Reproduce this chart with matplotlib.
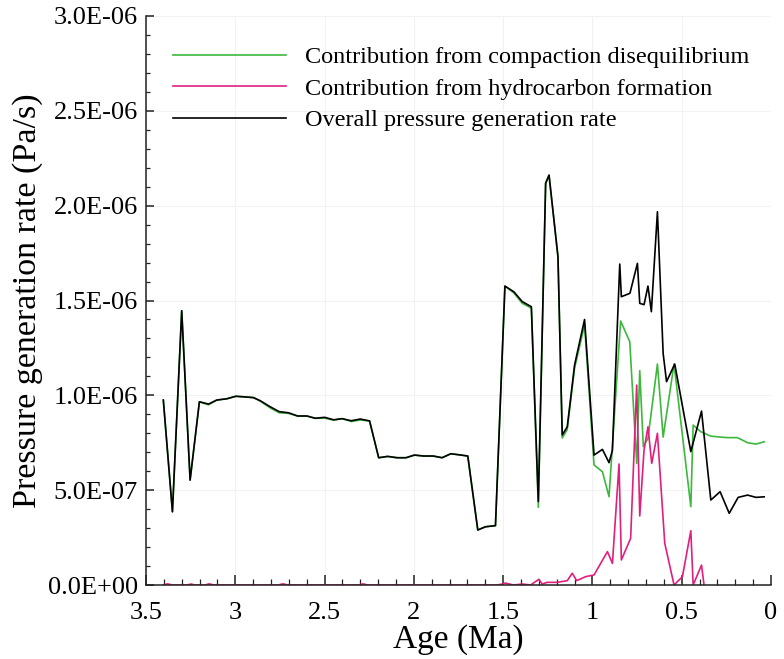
import matplotlib
matplotlib.use("Agg")
import matplotlib.pyplot as plt
from matplotlib.ticker import MultipleLocator, FuncFormatter

plt.rcParams['font.family'] = ['Liberation Serif', 'DejaVu Serif']

# overall pressure generation rate (age in Ma, rate in 1e-6 Pa/s)
age_total = [3.403, 3.352, 3.300, 3.253, 3.201, 3.150, 3.104, 3.047, 2.997, 2.950,
             2.898, 2.861, 2.805, 2.754, 2.702, 2.651, 2.599, 2.552, 2.500, 2.449,
             2.402, 2.350, 2.300, 2.248, 2.197, 2.147, 2.094, 2.044, 1.997, 1.945,
             1.892, 1.842, 1.793, 1.743, 1.698, 1.642, 1.599, 1.543, 1.490, 1.440,
             1.393, 1.342, 1.303, 1.262, 1.243, 1.193, 1.169, 1.141, 1.100, 1.044,
             0.991, 0.944, 0.907, 0.888, 0.847, 0.838, 0.790, 0.748, 0.735, 0.711,
             0.689, 0.670, 0.636, 0.604, 0.585, 0.539, 0.449, 0.389, 0.337, 0.285,
             0.234, 0.184, 0.131, 0.084, 0.038]
rate_total = [0.975, 0.386, 1.446, 0.553, 0.966, 0.954, 0.975, 0.982, 0.995, 0.992,
              0.988, 0.972, 0.940, 0.914, 0.908, 0.891, 0.891, 0.879, 0.884, 0.871,
              0.877, 0.866, 0.875, 0.865, 0.671, 0.678, 0.671, 0.671, 0.685, 0.680,
              0.680, 0.671, 0.692, 0.686, 0.680, 0.290, 0.307, 0.313, 1.576, 1.546,
              1.494, 1.467, 0.440, 2.118, 2.161, 1.731, 0.791, 0.834, 1.160, 1.400,
              0.685, 0.715, 0.645, 0.710, 1.692, 1.520, 1.538, 1.696, 1.485, 1.478,
              1.576, 1.441, 1.968, 1.221, 1.072, 1.165, 0.703, 0.917, 0.448, 0.492,
              0.378, 0.462, 0.474, 0.462, 0.465]

# contribution from compaction disequilibrium
age_comp = [3.403, 3.352, 3.300, 3.253, 3.201, 3.150, 3.104, 3.047, 2.997, 2.950,
            2.898, 2.861, 2.805, 2.754, 2.702, 2.651, 2.599, 2.552, 2.500, 2.449,
            2.402, 2.350, 2.300, 2.248, 2.197, 2.147, 2.094, 2.044, 1.997, 1.945,
            1.892, 1.842, 1.793, 1.743, 1.698, 1.642, 1.599, 1.543, 1.490, 1.440,
            1.393, 1.342, 1.303, 1.262, 1.243, 1.193, 1.169, 1.141, 1.100, 1.044,
            0.991, 0.944, 0.907, 0.842, 0.791, 0.752, 0.735, 0.715, 0.689, 0.636,
            0.604, 0.543, 0.449, 0.436, 0.393, 0.337, 0.285, 0.244, 0.188, 0.131,
            0.084, 0.038]
rate_comp = [0.975, 0.386, 1.446, 0.553, 0.966, 0.950, 0.975, 0.982, 0.995, 0.992,
             0.988, 0.970, 0.934, 0.908, 0.905, 0.891, 0.891, 0.879, 0.880, 0.869,
             0.877, 0.862, 0.870, 0.865, 0.671, 0.678, 0.671, 0.671, 0.685, 0.680,
             0.680, 0.671, 0.692, 0.686, 0.680, 0.290, 0.307, 0.313, 1.576, 1.540,
             1.485, 1.460, 0.410, 2.118, 2.161, 1.731, 0.775, 0.820, 1.143, 1.371,
             0.633, 0.597, 0.466, 1.392, 1.283, 0.641, 1.130, 0.729, 0.773, 1.165,
             0.780, 1.165, 0.413, 0.843, 0.808, 0.785, 0.780, 0.777, 0.777, 0.750,
             0.743, 0.755]

# contribution from hydrocarbon formation
age_hc = [3.403, 3.379, 3.352, 3.270, 3.248, 3.225, 3.170, 3.147, 3.120, 2.760,
          2.733, 2.705, 2.310, 2.285, 2.260, 1.533, 1.500, 1.487, 1.442, 1.393,
          1.346, 1.300, 1.281, 1.253, 1.197, 1.141, 1.113, 1.088, 1.038, 0.991,
          0.916, 0.888, 0.851, 0.838, 0.786, 0.752, 0.735, 0.711, 0.689, 0.668,
          0.636, 0.595, 0.543, 0.496, 0.449, 0.436, 0.389, 0.375]
rate_hc = [0.0, 0.006, 0.0, 0.0, 0.005, 0.0, 0.0, 0.006, 0.0, 0.0,
           0.006, 0.0, 0.0, 0.006, 0.0, 0.0, 0.006, 0.010, 0.0, 0.005,
           0.0, 0.030, 0.005, 0.014, 0.014, 0.023, 0.062, 0.023, 0.044, 0.053,
           0.176, 0.114, 0.638, 0.132, 0.246, 1.054, 0.364, 0.712, 0.834, 0.641,
           0.800, 0.220, 0.0, 0.044, 0.286, 0.0, 0.105, 0.0]

legend_labels = ["Contribution from compaction disequilibrium",
                 "Contribution from hydrocarbon formation",
                 "Overall pressure generation rate"]

scale = 1e-6

fig = plt.figure(figsize=(7.84, 6.59), dpi=100)
ax = fig.add_axes([146 / 784, 74 / 659, 625 / 784, 569 / 659])

l1, = ax.plot(age_comp, [v * scale for v in rate_comp], color='#3db83d', lw=1.2)
l2, = ax.plot(age_hc, [v * scale for v in rate_hc], color='#e0207e', lw=1.2)
l3, = ax.plot(age_total, [v * scale for v in rate_total], color='black', lw=1.2)

ax.set_xlim(3.5, 0)
ax.set_ylim(0, 3e-6)

ax.xaxis.set_major_locator(MultipleLocator(0.5))
ax.xaxis.set_minor_locator(MultipleLocator(0.1))
ax.yaxis.set_major_locator(MultipleLocator(5e-7))
ax.yaxis.set_minor_locator(MultipleLocator(1e-7))
ax.xaxis.set_major_formatter(FuncFormatter(lambda v, p: "%g" % round(v, 2)))
ax.yaxis.set_major_formatter(FuncFormatter(lambda v, p: "%.1E" % v))

for side in ['top', 'right']:
    ax.spines[side].set_visible(False)
for side in ['left', 'bottom']:
    ax.spines[side].set_linewidth(1.1)
    ax.spines[side].set_color('#222222')

ax.tick_params(axis='both', which='both', direction='in', color='#222222')
ax.tick_params(axis='x', which='major', length=7, width=1.1, labelsize=19, pad=12.5)
ax.tick_params(axis='x', which='minor', length=4, width=0.9)
ax.tick_params(axis='y', which='major', length=6, width=1.1, labelsize=19, pad=6)
ax.tick_params(axis='y', which='minor', length=3, width=0.9)

ax.grid(True, which='major', color='#f2f2f2', lw=0.8)
ax.set_axisbelow(True)

ax.set_xlabel("Age (Ma)", fontsize=24, labelpad=0)
ax.set_ylabel("Pressure generation rate (Pa/s)", fontsize=24.5, labelpad=3)

ax.legend([l1, l2, l3], legend_labels, loc='upper left',
          bbox_to_anchor=(173 / 784, 1 - 46 / 659), bbox_transform=fig.transFigure,
          frameon=False, fontsize=17.5, handlelength=4.65, handletextpad=0.8,
          labelspacing=0.4, borderpad=0, borderaxespad=0)

fig.savefig("out.png", dpi=100)
